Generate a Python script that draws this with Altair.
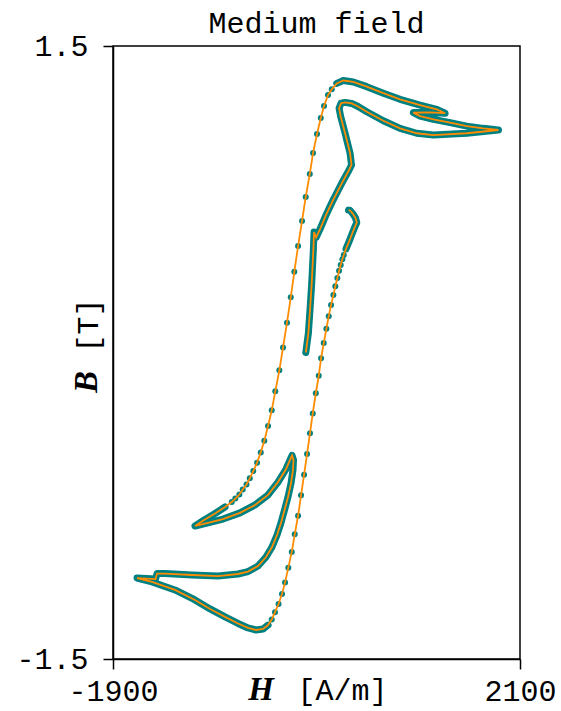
import altair as alt
import pandas as pd

# Magnetic field strength H [A/m] and flux density B [T], in sampling order
H = [-5, 20, 36, 53, 69, 76, 96, 135, 194, 263, 348, 420, 444, 430, 405, 381, 338, 322, 341, 381, 446,
     508, 594, 757, 921, 1085, 1249, 1577, 1888,
     1740, 1577, 1413, 1249, 1118, 1052, 1216, 1364,
     1282, 1118, 921, 757, 594, 462, 364, 299,
     250, 213, 174, 142, 105, 66, 34, -6, -42, -81, -118, -153, -190, -229, -265, -305, -340, -376,
     -413, -448, -484, -521, -556, -588, -625, -658, -698, -733,
     -799, -897, -996, -1094,
     -996, -819, -652, -504, -376, -278, -199, -160, -140,
     -126, -131, -150, -180, -209, -249, -288, -337, -396, -475, -573, -671, -868, -1123, -1389, -1467,
     -1482, -1664, -1517, -1291, -1094, -946, -799, -671, -573, -494, -425, -376,
     -340, -308, -273, -239, -209, -177, -143, -114, -81, -52, -22, 7, 36, 63, 93, 122, 145, 171, 197,
     220, 243, 266, 285, 305, 322, 338, 354, 368,
     390, 420, 449, 479, 496, 484, 459, 430, 415]
B = [0.0, 0.094, 0.208, 0.339, 0.502, 0.590, 0.563, 0.604, 0.673, 0.746, 0.828, 0.893, 0.918, 0.975, 1.025, 1.073, 1.154, 1.195, 1.220, 1.224, 1.219,
     1.204, 1.178, 1.134, 1.097, 1.073, 1.064, 1.073, 1.089,
     1.097, 1.108, 1.125, 1.141, 1.157, 1.174, 1.175, 1.171,
     1.190, 1.211, 1.239, 1.269, 1.301, 1.324, 1.331, 1.317,
     1.288, 1.260, 1.206, 1.148, 1.069, 0.976, 0.874, 0.761, 0.644, 0.521, 0.395, 0.270, 0.146, 0.025, -0.087, -0.190, -0.283, -0.360,
     -0.432, -0.489, -0.539, -0.580, -0.616, -0.646, -0.670, -0.695, -0.715, -0.732,
     -0.756, -0.788, -0.817, -0.849,
     -0.837, -0.815, -0.785, -0.746, -0.697, -0.634, -0.570, -0.526, -0.504,
     -0.526, -0.575, -0.639, -0.707, -0.761, -0.834, -0.893, -0.952, -1.001, -1.045, -1.072, -1.084, -1.094, -1.089, -1.082, -1.082,
     -1.109, -1.104, -1.123, -1.162, -1.211, -1.255, -1.294, -1.326, -1.348, -1.358, -1.353, -1.334,
     -1.307, -1.271, -1.231, -1.182, -1.125, -1.053, -0.976, -0.890, -0.799, -0.699, -0.598, -0.497, -0.395, -0.298, -0.200, -0.114, -0.028, 0.046, 0.116,
     0.177, 0.232, 0.281, 0.324, 0.365, 0.400, 0.428, 0.456, 0.477,
     0.507, 0.543, 0.580, 0.617, 0.636, 0.658, 0.678, 0.695, 0.697]
# 1 where the samples are so close that the markers merge into a band
DENSE = [1] * 45 + [0] * 28 + [1] * 41 + [0] * 28 + [1] * 9

X_TICKS = [-1900, 2100]
Y_TICKS = [-1.5, 1.5]
TITLE = "Medium field"

TEAL = "#008080"
ORANGE = "#FF8C00"
MONO = "Liberation Mono"

n = min(len(H), len(B), len(DENSE))
df = pd.DataFrame({"i": range(n), "H": H[:n], "B": B[:n], "dense": DENSE[:n]})
df["run"] = (df["dense"].diff().fillna(1) != 0).cumsum()

xs = alt.Scale(domain=X_TICKS, nice=False, zero=False)
ys = alt.Scale(domain=Y_TICKS, nice=False, zero=False)

xax = alt.Axis(values=X_TICKS, grid=False, tickSize=10, labelPadding=31, labelBaseline="alphabetic",
               labelFlush=False, labelFont=MONO, labelFontSize=30, labelColor="black",
               labelExpr="datum.value < 0 ? '-' + format(-datum.value, 'd') : format(datum.value, 'd')",
               title="[A/m]", titleFont=MONO, titleFontSize=30, titleFontWeight="normal",
               titleX=229, titleY=40, titleBaseline="alphabetic", titleAlign="center", titleColor="black",
               domainColor="black", tickColor="black", domainWidth=1.5, tickWidth=1.5)
yax = alt.Axis(values=Y_TICKS, grid=False, tickSize=10, labelPadding=15, labelBaseline="middle",
               labelFont=MONO, labelFontSize=30, labelColor="black",
               labelExpr="datum.value < 0 ? '-' + format(-datum.value, '.1f') : format(datum.value, '.1f')",
               title="[T]", titleFont=MONO, titleFontSize=30, titleFontWeight="normal",
               titleX=-16, titleY=279, titleBaseline="alphabetic", titleAlign="center", titleAngle=270,
               titleColor="black",
               domainColor="black", tickColor="black", domainWidth=1.5, tickWidth=1.5)

base = alt.Chart(df)

band = base.transform_filter("datum.dense == 1").mark_line(
    color=TEAL, strokeWidth=7, strokeCap="round", strokeJoin="round"
).encode(
    x=alt.X("H:Q", scale=xs, axis=xax),
    y=alt.Y("B:Q", scale=ys, axis=yax),
    detail="run:N",
    order="i:Q",
)

dots = base.mark_circle(size=36, color=TEAL, opacity=1).encode(
    x=alt.X("H:Q", scale=xs),
    y=alt.Y("B:Q", scale=ys),
)

line = base.mark_line(color=ORANGE, strokeWidth=1.8).encode(
    x=alt.X("H:Q", scale=xs),
    y=alt.Y("B:Q", scale=ys),
    order="i:Q",
)

title_txt = alt.Chart(pd.DataFrame({"t": [TITLE]})).mark_text(
    font=MONO, fontSize=30, align="center", baseline="alphabetic", color="black"
).encode(x=alt.value(203.5), y=alt.value(-13), text="t:N")

h_sym = alt.Chart(pd.DataFrame({"t": ["H"]})).mark_text(
    font="Liberation Serif", fontSize=33, fontStyle="italic", fontWeight="bold",
    align="center", baseline="alphabetic", color="black"
).encode(x=alt.value(148), y=alt.value(654), text="t:N")

b_sym = alt.Chart(pd.DataFrame({"t": ["B"]})).mark_text(
    font="Liberation Serif", fontSize=33, fontStyle="italic", fontWeight="bold",
    align="center", baseline="alphabetic", angle=270, color="black"
).encode(x=alt.value(-16), y=alt.value(336), text="t:N")

chart = alt.layer(band, dots, line, title_txt, h_sym, b_sym).properties(
    width=407, height=613,
    padding={"left": 113, "top": 46, "right": 41, "bottom": 52},
    autosize=alt.AutoSizeParams(type="none"),
).configure_view(stroke="black", strokeWidth=1.5)

chart.save("out.html", embed_options={"renderer": "svg", "actions": False})
